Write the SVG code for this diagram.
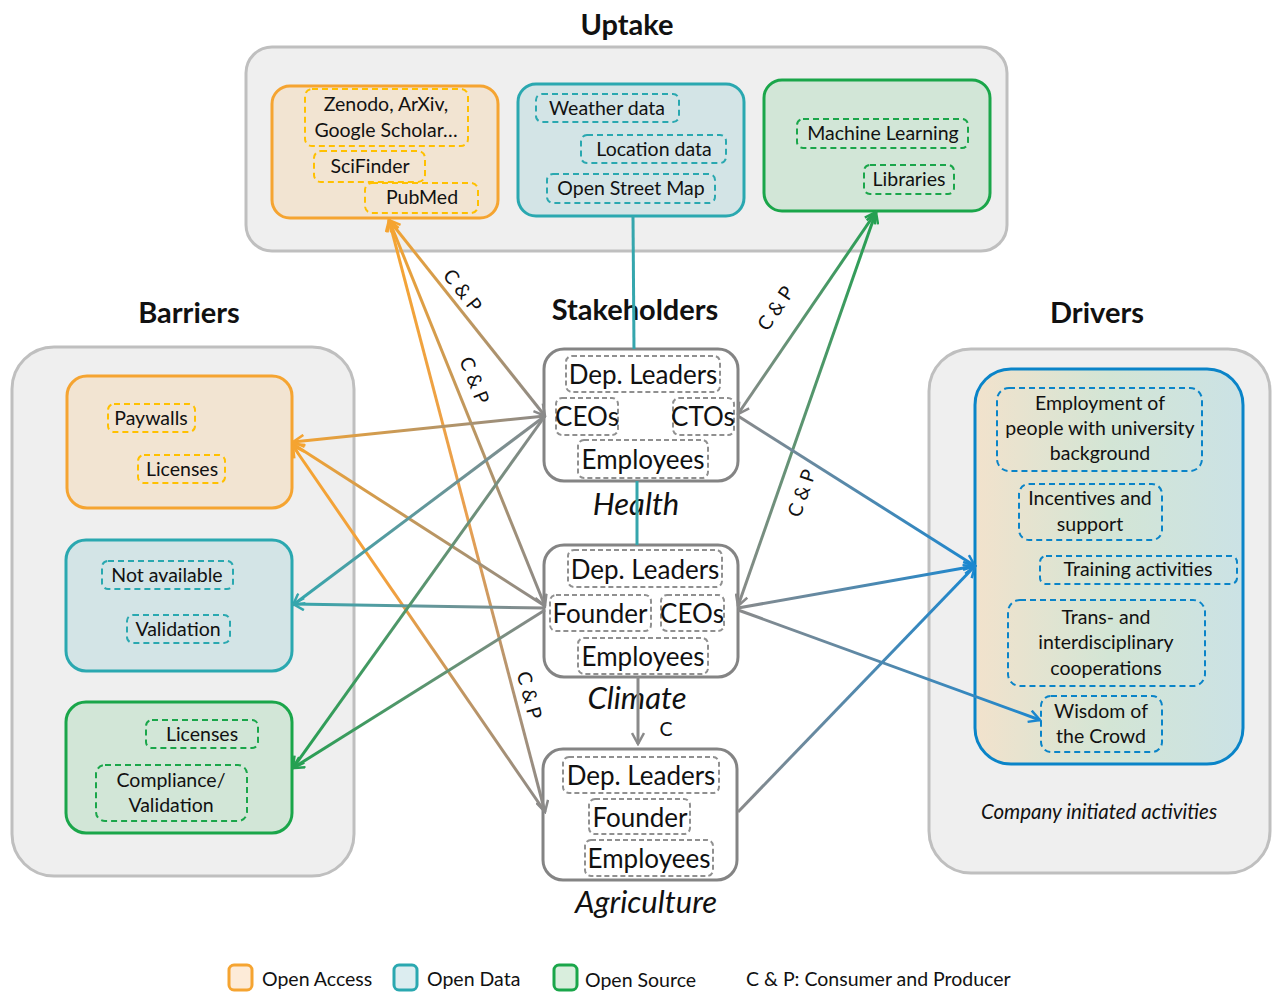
<svg xmlns="http://www.w3.org/2000/svg" width="1277" height="992" viewBox="0 0 1277 992">
<style>
text{font-family:Lato,"Open Sans","Liberation Sans",sans-serif;fill:#111}
.title{font-size:29px;font-weight:bold;text-anchor:middle}
.t{font-size:19.5px;text-anchor:middle}
.st{font-size:26px;text-anchor:middle}
.it{font-size:31px;font-style:italic;text-anchor:middle}
.outer{fill:#efefef;stroke:#bfbfbf;stroke-width:3}
.oa{fill:#f2e4d2;stroke:#f5a431;stroke-width:3}
.od{fill:#d3e4e6;stroke:#2aa8b0;stroke-width:3}
.os{fill:#d2e6d7;stroke:#1aa64a;stroke-width:3}
.sh{fill:#fff;stroke:#848484;stroke-width:3}
.doa{fill:none;stroke:#ffc000;stroke-width:2;stroke-dasharray:6 4}
.dod{fill:none;stroke:#2aa8b0;stroke-width:2;stroke-dasharray:6 4}
.dos{fill:none;stroke:#1aa64a;stroke-width:2;stroke-dasharray:6 4}
.dsh{fill:none;stroke:#909090;stroke-width:2;stroke-dasharray:5 3}
.ddr{fill:none;stroke:#0a84c8;stroke-width:2;stroke-dasharray:6 4}
.c{fill:none;stroke-width:3}
.lab{font-size:19.5px;text-anchor:middle;dominant-baseline:central}
.lg{font-size:19.5px}
</style>
<defs>
<marker id="mO" viewBox="0 0 14 14" refX="12" refY="7" markerWidth="14" markerHeight="14" markerUnits="userSpaceOnUse" orient="auto-start-reverse"><path d="M1,1 L12,7 L1,13" fill="none" stroke="#f5a431" stroke-width="2.5"/></marker>
<marker id="mG" viewBox="0 0 14 14" refX="12" refY="7" markerWidth="14" markerHeight="14" markerUnits="userSpaceOnUse" orient="auto-start-reverse"><path d="M1,1 L12,7 L1,13" fill="none" stroke="#8a8a8a" stroke-width="2.5"/></marker>
<marker id="mT" viewBox="0 0 14 14" refX="12" refY="7" markerWidth="14" markerHeight="14" markerUnits="userSpaceOnUse" orient="auto-start-reverse"><path d="M1,1 L12,7 L1,13" fill="none" stroke="#35a6ad" stroke-width="2.5"/></marker>
<marker id="mS" viewBox="0 0 14 14" refX="12" refY="7" markerWidth="14" markerHeight="14" markerUnits="userSpaceOnUse" orient="auto-start-reverse"><path d="M1,1 L12,7 L1,13" fill="none" stroke="#25a052" stroke-width="2.5"/></marker>
<marker id="mB" viewBox="0 0 14 14" refX="12" refY="7" markerWidth="14" markerHeight="14" markerUnits="userSpaceOnUse" orient="auto-start-reverse"><path d="M1,1 L12,7 L1,13" fill="none" stroke="#1b87cf" stroke-width="2.5"/></marker>
<linearGradient id="drvFill" x1="0" y1="0" x2="1" y2="0"><stop offset="0" stop-color="#f2e2cc"/><stop offset="0.5" stop-color="#d3e5d5"/><stop offset="1" stop-color="#cbe2e5"/></linearGradient>
<linearGradient id="gA" gradientUnits="userSpaceOnUse" x1="389" y1="220" x2="545" y2="416"><stop offset="0" stop-color="#f5a431"/><stop offset="1" stop-color="#8a8a8a"/></linearGradient>
<linearGradient id="gB" gradientUnits="userSpaceOnUse" x1="389" y1="220" x2="545" y2="606"><stop offset="0" stop-color="#f5a431"/><stop offset="1" stop-color="#8a8a8a"/></linearGradient>
<linearGradient id="gC" gradientUnits="userSpaceOnUse" x1="389" y1="220" x2="545" y2="812"><stop offset="0" stop-color="#f5a431"/><stop offset="0.5" stop-color="#e9a050"/><stop offset="1" stop-color="#8a8a8a"/></linearGradient>
<linearGradient id="gE" gradientUnits="userSpaceOnUse" x1="876" y1="212" x2="738" y2="414"><stop offset="0" stop-color="#25a052"/><stop offset="1" stop-color="#8a8a8a"/></linearGradient>
<linearGradient id="gF" gradientUnits="userSpaceOnUse" x1="876" y1="212" x2="738" y2="606"><stop offset="0" stop-color="#25a052"/><stop offset="1" stop-color="#8a8a8a"/></linearGradient>
<linearGradient id="gG" gradientUnits="userSpaceOnUse" x1="545" y1="416" x2="293" y2="442"><stop offset="0" stop-color="#8a8a8a"/><stop offset="1" stop-color="#f5a431"/></linearGradient>
<linearGradient id="gH" gradientUnits="userSpaceOnUse" x1="545" y1="606" x2="293" y2="444"><stop offset="0" stop-color="#8a8a8a"/><stop offset="1" stop-color="#f5a431"/></linearGradient>
<linearGradient id="gI" gradientUnits="userSpaceOnUse" x1="545" y1="812" x2="293" y2="446"><stop offset="0" stop-color="#8a8a8a"/><stop offset="0.6" stop-color="#f0a040"/><stop offset="1" stop-color="#f5a431"/></linearGradient>
<linearGradient id="gJ" gradientUnits="userSpaceOnUse" x1="545" y1="416" x2="293" y2="605"><stop offset="0" stop-color="#8a8a8a"/><stop offset="1" stop-color="#35a6ad"/></linearGradient>
<linearGradient id="gK" gradientUnits="userSpaceOnUse" x1="545" y1="608" x2="293" y2="604"><stop offset="0" stop-color="#8a8a8a"/><stop offset="1" stop-color="#35a6ad"/></linearGradient>
<linearGradient id="gL" gradientUnits="userSpaceOnUse" x1="545" y1="416" x2="293" y2="768"><stop offset="0" stop-color="#8a8a8a"/><stop offset="1" stop-color="#25a052"/></linearGradient>
<linearGradient id="gM" gradientUnits="userSpaceOnUse" x1="545" y1="610" x2="293" y2="768"><stop offset="0" stop-color="#8a8a8a"/><stop offset="1" stop-color="#25a052"/></linearGradient>
<linearGradient id="gN" gradientUnits="userSpaceOnUse" x1="738" y1="416" x2="975" y2="566"><stop offset="0" stop-color="#8a8a8a"/><stop offset="1" stop-color="#1b87cf"/></linearGradient>
<linearGradient id="gO" gradientUnits="userSpaceOnUse" x1="738" y1="608" x2="975" y2="566"><stop offset="0" stop-color="#8a8a8a"/><stop offset="1" stop-color="#1b87cf"/></linearGradient>
<linearGradient id="gP" gradientUnits="userSpaceOnUse" x1="738" y1="610" x2="1040" y2="720"><stop offset="0" stop-color="#8a8a8a"/><stop offset="1" stop-color="#1b87cf"/></linearGradient>
<linearGradient id="gQ" gradientUnits="userSpaceOnUse" x1="738" y1="812" x2="975" y2="566"><stop offset="0" stop-color="#8a8a8a"/><stop offset="1" stop-color="#1b87cf"/></linearGradient>
</defs>
<rect width="1277" height="992" fill="#fff"/>

<g id="uptake">
<rect class="outer" x="246" y="47" width="761" height="204" rx="26"/>
<text class="title" x="627" y="35">Uptake</text>
</g>
<g id="barriers">
<rect class="outer" x="12" y="347" width="342" height="529" rx="42"/>
<text class="title" x="189" y="323">Barriers</text>
</g>
<g id="drivers">
<rect class="outer" x="929" y="349" width="341" height="524" rx="42"/>
<text class="title" x="1097" y="323">Drivers</text>
<text x="1099" y="819" style="font-size:20.5px;font-style:italic;text-anchor:middle">Company initiated activities</text>
</g>

<g id="uptake-oa">
<rect class="oa" x="272" y="86" width="226" height="132" rx="18"/>
<rect class="doa" x="305" y="89" width="163" height="57" rx="7"/>
<text class="t" x="386" y="111">Zenodo, ArXiv,</text>
<text class="t" x="386" y="137">Google Scholar…</text>
<rect class="doa" x="314" y="151" width="111" height="31" rx="7"/>
<text class="t" x="370" y="173">SciFinder</text>
<rect class="doa" x="365" y="183" width="113" height="30" rx="7"/>
<text class="t" x="422" y="204">PubMed</text>
</g>
<g id="uptake-od">
<rect class="od" x="518" y="84" width="226" height="132" rx="18"/>
<rect class="dod" x="536" y="94" width="143" height="28" rx="6"/>
<text class="t" x="607" y="115">Weather data</text>
<rect class="dod" x="581" y="135" width="145" height="28" rx="6"/>
<text class="t" x="654" y="156">Location data</text>
<rect class="dod" x="547" y="174" width="168" height="29" rx="6"/>
<text class="t" x="631" y="195">Open Street Map</text>
</g>
<g id="uptake-os">
<rect class="os" x="764" y="80" width="226" height="131" rx="18"/>
<rect class="dos" x="797" y="119" width="171" height="29" rx="6"/>
<text class="t" x="883" y="140">Machine Learning</text>
<rect class="dos" x="864" y="165" width="90" height="29" rx="6"/>
<text class="t" x="909" y="186">Libraries</text>
</g>

<g id="barrier-oa">
<rect class="oa" x="67" y="376" width="225" height="132" rx="20"/>
<rect class="doa" x="108" y="404" width="87" height="28" rx="6"/>
<text class="t" x="151" y="425">Paywalls</text>
<rect class="doa" x="138" y="455" width="87" height="28" rx="6"/>
<text class="t" x="182" y="476">Licenses</text>
</g>
<g id="barrier-od">
<rect class="od" x="66" y="540" width="226" height="131" rx="20"/>
<rect class="dod" x="102" y="561" width="131" height="28" rx="6"/>
<text class="t" x="167" y="582">Not available</text>
<rect class="dod" x="127" y="615" width="103" height="28" rx="6"/>
<text class="t" x="178" y="636">Validation</text>
</g>
<g id="barrier-os">
<rect class="os" x="66" y="702" width="226" height="131" rx="20"/>
<rect class="dos" x="146" y="720" width="112" height="28" rx="6"/>
<text class="t" x="202" y="741">Licenses</text>
<rect class="dos" x="96" y="765" width="151" height="56" rx="9"/>
<text class="t" x="171" y="787">Compliance/</text>
<text class="t" x="171" y="812">Validation</text>
</g>

<g id="stakeholders-title"><text class="title" x="635" y="320">Stakeholders</text></g>
<g id="health">
<rect class="sh" x="544" y="349" width="194" height="132" rx="20"/>
<rect class="dsh" x="566" y="356" width="154" height="36" rx="6"/>
<text class="st" x="643" y="384">Dep. Leaders</text>
<rect class="dsh" x="556" y="398" width="62" height="37" rx="6"/>
<text class="st" x="587" y="426">CEOs</text>
<rect class="dsh" x="673" y="398" width="61" height="37" rx="6"/>
<text class="st" x="703" y="426">CTOs</text>
<rect class="dsh" x="578" y="440" width="130" height="38" rx="6"/>
<text class="st" x="643" y="469">Employees</text>
<text class="it" x="636" y="515">Health</text>
</g>
<g id="climate">
<rect class="sh" x="544" y="545" width="194" height="132" rx="20"/>
<rect class="dsh" x="568" y="550" width="154" height="37" rx="6"/>
<text class="st" x="645" y="579">Dep. Leaders</text>
<rect class="dsh" x="550" y="595" width="101" height="36" rx="6"/>
<text class="st" x="600" y="623">Founder</text>
<rect class="dsh" x="661" y="595" width="63" height="36" rx="6"/>
<text class="st" x="692" y="623">CEOs</text>
<rect class="dsh" x="578" y="638" width="130" height="36" rx="6"/>
<text class="st" x="643" y="666">Employees</text>
<text class="it" x="637" y="709">Climate</text>
</g>
<g id="agriculture">
<rect class="sh" x="543" y="749" width="194" height="131" rx="20"/>
<rect class="dsh" x="563" y="757" width="156" height="36" rx="6"/>
<text class="st" x="641" y="785">Dep. Leaders</text>
<rect class="dsh" x="589" y="799" width="101" height="35" rx="6"/>
<text class="st" x="640" y="827">Founder</text>
<rect class="dsh" x="585" y="840" width="128" height="36" rx="6"/>
<text class="st" x="649" y="868">Employees</text>
<text class="it" x="646" y="913">Agriculture</text>
</g>

<g id="drivers-box">
<rect x="975" y="369" width="268" height="395" rx="36" fill="url(#drvFill)" stroke="#0a84c8" stroke-width="3"/>
<rect class="ddr" x="997" y="388" width="205" height="83" rx="12"/>
<text class="t" x="1100" y="410">Employment of</text>
<text class="t" x="1100" y="435">people with university</text>
<text class="t" x="1100" y="460">background</text>
<rect class="ddr" x="1019" y="484" width="143" height="56" rx="10"/>
<text class="t" x="1090" y="505">Incentives and</text>
<text class="t" x="1090" y="531">support</text>
<rect class="ddr" x="1040" y="556" width="197" height="28" rx="6"/>
<text class="t" x="1138" y="576">Training activities</text>
<rect class="ddr" x="1008" y="600" width="197" height="86" rx="12"/>
<text class="t" x="1106" y="624">Trans- and</text>
<text class="t" x="1106" y="649">interdisciplinary</text>
<text class="t" x="1106" y="675">cooperations</text>
<rect class="ddr" x="1041" y="696" width="121" height="56" rx="10"/>
<text class="t" x="1101" y="718">Wisdom of</text>
<text class="t" x="1101" y="743">the Crowd</text>
</g>

<g id="connectors">
<line class="c" x1="633" y1="216" x2="634" y2="349" stroke="#35a6ad"/>
<line class="c" x1="637" y1="481" x2="637" y2="545" stroke="#35a6ad"/>
<line class="c" x1="638" y1="677" x2="638" y2="744" stroke="#8a8a8a" marker-end="url(#mG)"/>
<line class="c" x1="389" y1="220" x2="545" y2="416" stroke="url(#gA)" marker-start="url(#mO)" marker-end="url(#mG)"/>
<line class="c" x1="389" y1="220" x2="545" y2="606" stroke="url(#gB)" marker-start="url(#mO)" marker-end="url(#mG)"/>
<line class="c" x1="389" y1="220" x2="545" y2="812" stroke="url(#gC)" marker-start="url(#mO)" marker-end="url(#mG)"/>
<line class="c" x1="876" y1="212" x2="738" y2="414" stroke="url(#gE)" marker-start="url(#mS)" marker-end="url(#mG)"/>
<line class="c" x1="876" y1="212" x2="738" y2="606" stroke="url(#gF)" marker-start="url(#mS)" marker-end="url(#mG)"/>
<line class="c" x1="545" y1="416" x2="293" y2="442" stroke="url(#gG)" marker-end="url(#mO)"/>
<line class="c" x1="545" y1="606" x2="293" y2="444" stroke="url(#gH)" marker-end="url(#mO)"/>
<line class="c" x1="545" y1="812" x2="293" y2="446" stroke="url(#gI)" marker-end="url(#mO)"/>
<line class="c" x1="545" y1="416" x2="293" y2="605" stroke="url(#gJ)" marker-end="url(#mT)"/>
<line class="c" x1="545" y1="608" x2="293" y2="604" stroke="url(#gK)" marker-end="url(#mT)"/>
<line class="c" x1="545" y1="416" x2="293" y2="768" stroke="url(#gL)" marker-end="url(#mS)"/>
<line class="c" x1="545" y1="610" x2="293" y2="768" stroke="url(#gM)" marker-end="url(#mS)"/>
<line class="c" x1="738" y1="416" x2="975" y2="566" stroke="url(#gN)" marker-end="url(#mB)"/>
<line class="c" x1="738" y1="608" x2="975" y2="566" stroke="url(#gO)" marker-end="url(#mB)"/>
<line class="c" x1="738" y1="610" x2="1040" y2="720" stroke="url(#gP)" marker-end="url(#mB)"/>
<line class="c" x1="738" y1="812" x2="975" y2="566" stroke="url(#gQ)" marker-end="url(#mB)"/>
<text class="lab" transform="translate(463,290) rotate(51.5)">C &amp; P</text>
<text class="lab" transform="translate(475,380) rotate(68)">C &amp; P</text>
<text class="lab" transform="translate(530,695) rotate(75)">C &amp; P</text>
<text class="lab" transform="translate(775,308) rotate(-55.7)">C &amp; P</text>
<text class="lab" transform="translate(801,493) rotate(-70.7)">C &amp; P</text>
<text class="lab" x="666" y="728">C</text>
</g>

<g id="legend">
<rect x="229" y="965" width="23" height="25" rx="5" fill="#fdebd8" stroke="#f5a431" stroke-width="3"/>
<text class="lg" x="262" y="986">Open Access</text>
<rect x="394" y="965" width="23" height="25" rx="5" fill="#dcedf0" stroke="#2aa8b0" stroke-width="3"/>
<text class="lg" x="427" y="986">Open Data</text>
<rect x="554" y="965" width="23" height="25" rx="5" fill="#d9eedd" stroke="#1aa64a" stroke-width="3"/>
<text class="lg" x="585" y="987">Open Source</text>
<text class="lg" x="746" y="986">C &amp; P: Consumer and Producer</text>
</g>
</svg>
